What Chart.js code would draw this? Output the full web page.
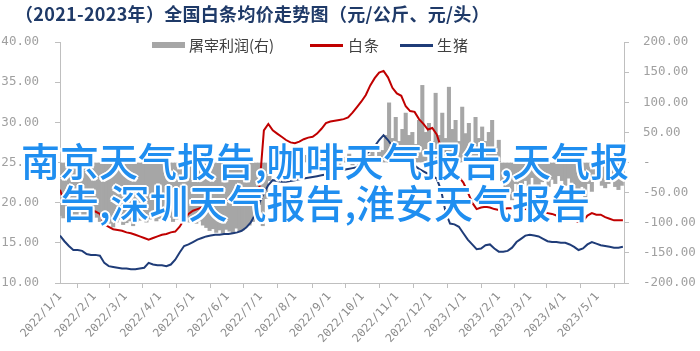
<!DOCTYPE html>
<html>
<head>
<meta charset="utf-8">
<script src="https://cdn.jsdelivr.net/npm/chart.js@4/dist/chart.umd.min.js"></script>
<style>
  html, body { margin: 0; padding: 0; background: #fff; }
  #wrap { position: relative; width: 700px; height: 351px; overflow: hidden; }
  #c { position: absolute; left: 0; top: 0; }
  .title { position: absolute; left: 15px; top: 0px; font-family: "Noto Sans CJK SC", sans-serif; font-weight: bold; font-size: 18px; color: #1f3a68; white-space: nowrap; letter-spacing: 0.3px; }
  .legend { position: absolute; top: 36px; left: 0; font-family: "Noto Sans CJK SC", sans-serif; font-size: 15px; color: #404040; white-space: nowrap; }
  .lg { position: absolute; top: 0; line-height: 18px; }
  .mk { position: absolute; }
  .overlay { position: absolute; left: 0; width: 650px; top: 138px; text-align: center; font-family: "Noto Sans CJK SC", sans-serif; font-size: 39px; font-weight: 500; line-height: 42px; color: #1f8ef0; white-space: nowrap;
    text-shadow: 2px 0 0 #fff, -2px 0 0 #fff, 0 2px 0 #fff, 0 -2px 0 #fff, 1.5px 1.5px 0 #fff, -1.5px -1.5px 0 #fff, 1.5px -1.5px 0 #fff, -1.5px 1.5px 0 #fff; }
</style>
</head>
<body>
<div id="wrap">
  <canvas id="c" width="700" height="351"></canvas>
  <div class="title">（2021-2023年）全国白条均价走势图（元/公斤、元/头）</div>
  <div class="legend">
    <div class="mk" style="left:152px; top:6px; width:33px; height:6px; background:#a6a6a6;"></div>
    <div class="lg" style="left:189px;">屠宰利润(右)</div>
    <div class="mk" style="left:310px; top:8px; width:33px; height:2.5px; background:#c00000;"></div>
    <div class="lg" style="left:348px; letter-spacing:1px;">白条</div>
    <div class="mk" style="left:400px; top:8px; width:33px; height:2.5px; background:#1f3c78;"></div>
    <div class="lg" style="left:437px; letter-spacing:1px;">生猪</div>
  </div>
  <div class="overlay">南京天气报告,咖啡天气报告,天气报<br>告,深圳天气报告,淮安天气报告</div>
</div>
<script>
// ---- data ----
// x values are days since 2022/1/1
const monthDays = [0,31,59,90,120,151,181,212,243,273,304,334,365,396,424,455,485];
const tickLabels = ['2022/1/1','2022/2/1','2022/3/1','2022/4/1','2022/5/1','2022/6/1','2022/7/1','2022/8/1','2022/9/1','2022/10/1','2022/11/1','2022/12/1','2023/1/1','2023/2/1','2023/3/1','2023/4/1','2023/5/1'];

const lineStepDays = 4;   // one line point every 4 days from 2022/1/1
const barStepDays = 3;    // one bar every 3 days from 2022/1/1

// 白条 (元/公斤)
const baitiao = [21.6,20.0,19.6,19.5,19.4,19.3,19.2,19.0,18.9,18.6,17.3,17.0,16.7,16.6,16.5,16.3,16.2,16.0,15.8,15.6,
  15.4,15.6,15.8,16.0,16.1,16.3,16.4,17.0,17.9,18.6,19.0,19.2,19.4,19.7,19.9,20.1,20.2,20.3,20.4,20.5,
  20.5,20.6,20.6,20.7,20.8,22.0,29.0,29.8,29.0,28.6,28.2,27.8,27.5,27.4,27.6,27.9,28.1,28.2,28.6,29.2,
  29.9,30.1,30.2,30.3,30.4,30.6,31.2,31.9,32.6,33.4,34.6,35.5,36.2,36.4,35.6,34.3,33.6,33.3,32.0,31.4,
  31.3,30.4,29.8,29.1,29.3,28.5,26.8,24.5,23.8,23.5,23.2,22.5,21.3,20.0,19.2,19.4,19.5,19.4,19.2,19.1,
  19.2,19.3,19.3,19.3,19.2,19.2,19.1,19.0,18.9,18.8,18.7,18.6,18.4,18.3,18.2,18.0,17.8,17.6,17.7,18.4,
  18.7,18.5,18.5,18.2,18.0,17.8,17.8,17.8];

// 生猪 (元/公斤)
const shengzhu = [15.9,15.2,14.6,14.1,14.1,14.0,13.6,13.5,13.5,13.4,12.5,12.1,12.0,11.9,11.8,11.8,11.7,11.7,11.8,11.9,
  12.5,12.3,12.2,12.2,12.1,12.3,12.9,13.8,14.6,14.8,15.1,15.4,15.6,15.8,15.9,16.0,16.0,16.1,16.1,16.2,
  16.3,16.5,16.9,17.5,18.5,20.0,21.2,22.2,22.8,22.7,22.6,22.6,22.7,22.8,22.9,23.0,23.1,23.2,23.3,23.4,
  23.5,23.6,23.8,24.0,24.1,24.2,24.3,24.4,25.2,26.0,26.5,27.0,27.8,28.4,27.8,27.0,26.5,26.0,25.4,24.9,
  24.6,24.2,23.9,23.6,23.3,23.0,21.5,18.8,17.4,17.3,17.0,16.2,15.4,14.8,14.2,14.3,14.7,14.8,14.3,13.9,
  13.9,14.0,14.4,15.1,15.5,15.9,16.0,15.9,15.8,15.5,15.2,15.1,15.1,15.0,15.0,14.8,14.5,14.1,14.3,14.8,
  15.1,14.9,14.7,14.6,14.5,14.4,14.4,14.5];

// 屠宰利润 (元/头, right axis)
const tuzaiProfit = [
  -88,-92,-85,-90,-94,-87,-82,-90,-93,-88,-86,-91,
  -98,-104,-96,-101,-107,-99,-95,-103,-100,-97,-105,-98,
  -96,-92,-99,-94,-90,-97,-93,-88,-95,-91,-98,-94,-89,-96,-92,-99,-95,-101,-97,-104,
  -108,-113,-110,-116,-112,-117,-111,-114,-118,-109,-115,-112,-107,-104,-98,
  -85,-70,-105,-60,-30,-15,
  5,-8,10,-5,3,-12,8,-4,6,12,-6,4,9,-3,7,15,-2,5,11,-7,8,3,14,-4,6,10,18,5,12,20,8,25,
  20,45,99,40,75,35,55,82,45,50,30,70,128,50,65,35,115,45,82,40,125,55,70,35,92,48,65,30,75,40,59,35,50,70,25,37,
  -30,-55,-40,-62,-35,-48,-58,-30,-42,-25,-38,-45,-32,-20,-40,-28,-35,-22,-30,-38,-26,-33,-45,-50,-40,-57,-35,-48,-30,-25,-38,-42,-35,-30,-40,-45,-38];

const seriesNames = ['屠宰利润(右)', '白条', '生猪'];

// ---- chart ----
const toPts = (arr, step) => arr.map((v, i) => ({ x: i * step, y: v }));
const axisGray = '#bfbfbf';
const tickFontY = { family: 'DejaVu Sans Mono', size: 12.5 };

new Chart(document.getElementById('c'), {
  type: 'bar',
  data: {
    datasets: [
      { type: 'line', label: seriesNames[1], data: toPts(baitiao, lineStepDays), yAxisID: 'yL',
        borderColor: '#c00000', borderWidth: 2, pointRadius: 0, tension: 0, order: 1 },
      { type: 'line', label: seriesNames[2], data: toPts(shengzhu, lineStepDays), yAxisID: 'yL',
        borderColor: '#1f3c78', borderWidth: 2, pointRadius: 0, tension: 0, order: 0 },
      { type: 'bar', label: seriesNames[0], data: toPts(tuzaiProfit, barStepDays), yAxisID: 'yR',
        backgroundColor: '#a6a6a6', borderWidth: 0, barThickness: 3.4, grouped: false, order: 5 }
    ]
  },
  options: {
    responsive: false,
    animation: false,
    devicePixelRatio: 1,
    layout: { padding: { top: 42, left: 0, right: 0, bottom: 0 } },
    plugins: { legend: { display: false }, title: { display: false }, tooltip: { enabled: false } },
    scales: {
      x: {
        type: 'linear', min: 0, max: 509, offset: false,
        afterBuildTicks: (s) => { s.ticks = monthDays.map(v => ({ value: v })); },
        afterFit: (s) => { s.height = 68; },
        ticks: {
          autoSkip: false, maxRotation: 48, minRotation: 48, padding: 2,
          color: '#8c8c8c', font: { family: 'DejaVu Sans Mono', size: 11.5 },
          callback: (v) => { const i = monthDays.indexOf(v); return i >= 0 ? tickLabels[i] : ''; }
        },
        grid: { drawOnChartArea: false, drawTicks: true, tickLength: 5, color: axisGray },
        border: { display: true, color: axisGray }
      },
      yL: {
        type: 'linear', position: 'left', min: 10, max: 40,
        afterFit: (s) => { s.width = 60; },
        ticks: { stepSize: 5, padding: 16, color: '#a0a0a0', font: tickFontY, callback: (v) => v.toFixed(2) },
        grid: { drawOnChartArea: false, drawTicks: true, tickLength: 5, color: axisGray },
        border: { display: true, color: axisGray }
      },
      yR: {
        type: 'linear', position: 'right', min: -200, max: 200,
        afterFit: (s) => { s.width = 76; },
        ticks: { stepSize: 50, padding: 14, color: '#a0a0a0', font: tickFontY, callback: (v) => v === 0 ? '-' : v.toFixed(2) },
        grid: { drawOnChartArea: false, drawTicks: true, tickLength: 5, color: axisGray },
        border: { display: true, color: axisGray }
      }
    }
  }
});
</script>
</body>
</html>
